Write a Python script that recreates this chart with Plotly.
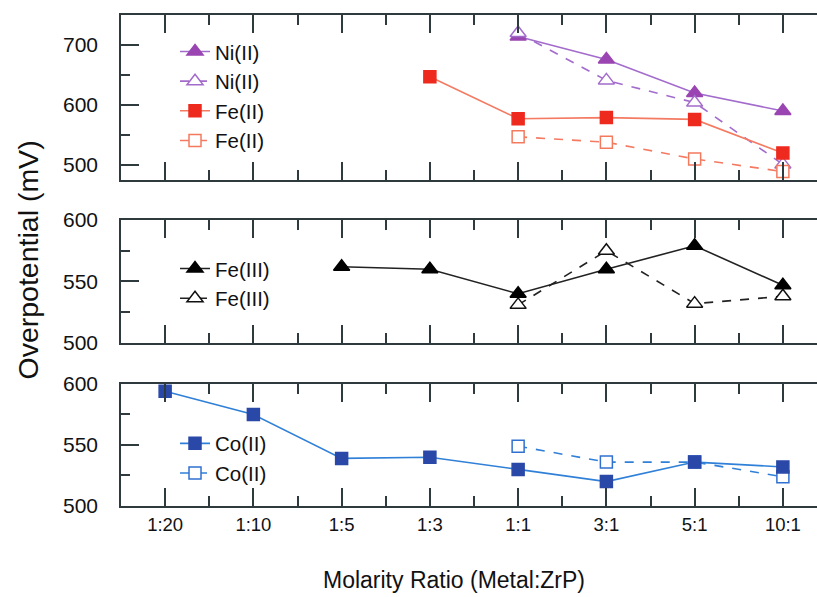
import plotly.graph_objects as go

ratios = ["1:20", "1:10", "1:5", "1:3", "1:1", "3:1", "5:1", "10:1"]

ni_filled = [None, None, None, None, 714, 676, 620, 590]
ni_open = [None, None, None, None, 720, 641, 604, 501]
fe2_filled = [None, None, None, 647, 577, 579, 576, 520]
fe2_open = [None, None, None, None, 547, 538, 510, 489]

fe3_filled = [None, None, 562, 560, 540, 560, 579, 547]
fe3_open = [None, None, None, None, 531, 575, 532, 538]

co_filled = [594, 575, 539, 540, 530, 520, 536, 532]
co_open = [None, None, None, None, 549, 536, 536, 524]

xpos = list(range(len(ratios)))

FONT = "Liberation Sans, Arial, sans-serif"
AX = "#2f3a3f"

fig = go.Figure()


def add(y, name, sym, mcol, lcol, filled, dash, yax, leg, rank):
    fig.add_trace(go.Scatter(
        x=xpos, y=y, name=name, mode="lines+markers",
        line=dict(color=lcol, width=1.6, dash=dash),
        marker=dict(symbol=sym, size=14 if "triangle" in sym else 12,
                    color=mcol if filled else "white",
                    line=dict(color=mcol, width=1.5)),
        xaxis="x" if yax == "y" else "x" + yax[1:], yaxis=yax,
        legend=leg, legendrank=rank, connectgaps=False, cliponaxis=False))


ni_m, ni_l = "#9a45b2", "#a36ccc"
fe_m, fe_l = "#ee2a1e", "#f47a62"
fe_o = "#f47a5e"
co_m, co_l = "#2a48a8", "#3080d8"
co_o = "#3070d0"

add(ni_filled, "Ni(II)", "triangle-up", ni_m, ni_l, True, "solid", "y", "legend", 1)
add(ni_open, "Ni(II)", "triangle-up", ni_l, ni_l, False, "dash", "y", "legend", 2)
add(fe2_filled, "Fe(II)", "square", fe_m, fe_l, True, "solid", "y", "legend", 3)
add(fe2_open, "Fe(II)", "square", fe_o, fe_l, False, "dash", "y", "legend", 4)

add(fe3_open, "Fe(III)", "triangle-up", "#111111", "#222222", False, "dash", "y2", "legend2", 2)
add(fe3_filled, "Fe(III)", "triangle-up", "#000000", "#222222", True, "solid", "y2", "legend2", 1)

add(co_open, "Co(II)", "square", co_o, co_l, False, "dash", "y3", "legend3", 2)
add(co_filled, "Co(II)", "square", co_m, co_l, True, "solid", "y3", "legend3", 1)

xtickfont = dict(family=FONT, size=18.5, color="#111111")
ytickfont = dict(family=FONT, size=21, color="#111111")

XR = [-0.5, -0.5 + 696 / 88.25]


def xax(anchor, show):
    return dict(range=XR, tickvals=xpos, ticktext=ratios,
                showticklabels=show, ticks="inside", ticklen=18, tickwidth=1.5,
                tickcolor=AX, showline=True, linecolor=AX, linewidth=1.5,
                mirror="allticks", showgrid=False, zeroline=False,
                minor=dict(tickmode="linear", tick0=0.5, dtick=1, ticks="inside",
                           ticklen=10, tickwidth=1.5, tickcolor=AX, showgrid=False),
                tickfont=xtickfont, anchor=anchor, ticklabelstandoff=1,
                automargin=False)


def yax(dom, rng, tv, mdt, anchor):
    return dict(domain=dom, range=rng, tickvals=tv, ticks="inside", ticklen=18,
                tickwidth=1.5, tickcolor=AX, showline=True, linecolor=AX,
                linewidth=1.5, mirror=False, showgrid=False, zeroline=False,
                minor=dict(dtick=mdt, tick0=0, ticks="inside", ticklen=9,
                           tickwidth=1.5, tickcolor=AX, showgrid=False),
                tickfont=ytickfont, anchor=anchor, ticklabelstandoff=17,
                automargin=False)


def yright(over, rng, tv, anchor):
    return dict(overlaying=over, side="right", anchor=anchor, range=rng,
                tickvals=tv, ticks="inside", ticklen=9, tickwidth=1.5,
                tickcolor=AX, showline=False, showticklabels=False,
                showgrid=False, zeroline=False, automargin=False)


legfont = dict(family=FONT, size=20.5, color="#111111")


def leg(y):
    return dict(x=0.0776, y=y, xanchor="left", yanchor="top",
                bgcolor="rgba(0,0,0,0)", font=legfont, tracegroupgap=0)


R1, R2 = [475, 750], [500, 600]
T1, T2 = [500, 600, 700], [500, 550, 600]

fig.update_layout(
    width=817, height=597, autosize=False,
    margin=dict(l=121, r=0, t=15, b=91, autoexpand=False),
    paper_bgcolor="white", plot_bgcolor="white",
    xaxis=xax("y", False), xaxis2=xax("y2", False), xaxis3=xax("y3", True),
    yaxis=yax([0.664, 1.0], R1, T1, 50, "x"),
    yaxis2=yax([0.332, 0.5825], R2, T2, 25, "x2"),
    yaxis3=yax([0.0, 0.2485], R2, T2, 25, "x3"),
    yaxis4=yright("y", R1, T1, "x"),
    yaxis5=yright("y2", R2, T2, "x2"),
    yaxis6=yright("y3", R2, T2, "x3"),
    legend=leg(0.966), legend2=leg(0.524), legend3=leg(0.168),
    showlegend=True,
    annotations=[
        dict(text="Overpotential (mV)", xref="paper", yref="paper",
             x=-0.135, y=0.5, xanchor="center", yanchor="middle",
             textangle=-90, showarrow=False,
             font=dict(family=FONT, size=28.5, color="#111111")),
        dict(text="Molarity Ratio (Metal:ZrP)", xref="paper", yref="paper",
             x=0.478, y=-0.151, xanchor="center", yanchor="middle",
             showarrow=False,
             font=dict(family=FONT, size=23, color="#111111")),
    ],
)

fig.write_html(
    "out.html",
    post_script=("document.documentElement.style.overflow='hidden';"
                 "document.body.style.overflow='hidden';"
                 "document.body.style.margin='0';"),
)
